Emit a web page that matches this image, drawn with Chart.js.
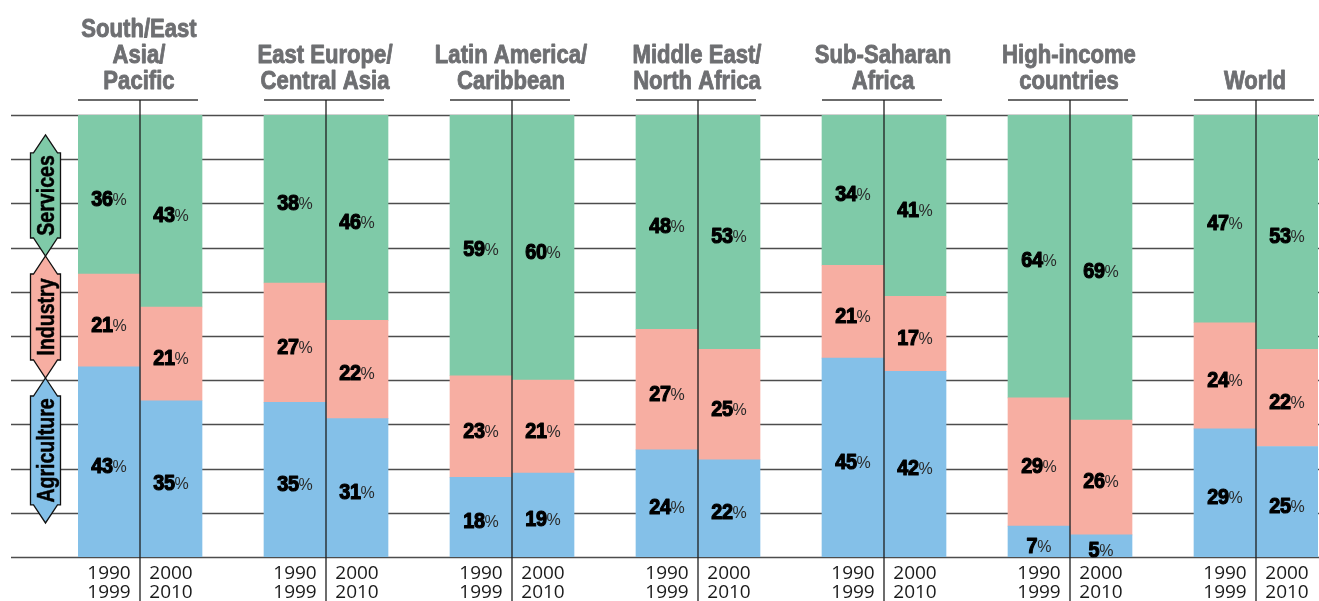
<!DOCTYPE html>
<html>
<head>
<meta charset="utf-8">
<script src="https://cdn.jsdelivr.net/npm/chart.js@4.4.1/dist/chart.umd.min.js"></script>
<style>
  html, body { margin: 0; padding: 0; background: #fff; }
  canvas { display: block; }
</style>
</head>
<body>
<canvas id="chart" width="1319" height="601"></canvas>
<script>
// Region headings (one entry per line of the heading)
const regionHeaders = [
  ['South/East', 'Asia/', 'Pacific'],
  ['East Europe/', 'Central Asia'],
  ['Latin America/', 'Caribbean'],
  ['Middle East/', 'North Africa'],
  ['Sub-Saharan', 'Africa'],
  ['High-income', 'countries'],
  ['World']
];
// Two periods per region
const periodLabels = [['1990', '1999'], ['2000', '2010']];

// Shares (%) per bar: region order, 1990-1999 then 2000-2010
const agriculture = [43, 35, 35, 31, 18, 19, 24, 22, 45, 42, 7, 5, 29, 25];
const industry    = [21, 21, 27, 22, 23, 21, 27, 25, 21, 17, 29, 26, 24, 22];
const services    = [36, 43, 38, 46, 59, 60, 48, 53, 34, 41, 64, 69, 47, 53];

const sectorNames  = ['Agriculture', 'Industry', 'Services'];
const sectorColors = ['#84c0e8', '#f7aea2', '#7fcaa8'];
// Side legend arrows, as [top tip, bottom tip] on the percentage axis
const sectorArrowSpans = [[40.5, 7.7], [68.1, 40.5], [95.5, 68.1]];

// Category slots: two bars per region, an empty slot between regions
const slotLabels = [];
const slotBar = [];      // bar index for each slot, or null for a spacer
regionHeaders.forEach((h, r) => {
  periodLabels.forEach((p, k) => { slotLabels.push(p.join(' ')); slotBar.push(r * 2 + k); });
  if (r < regionHeaders.length - 1) { slotLabels.push(''); slotBar.push(null); }
});

const sectorValues = [agriculture, industry, services];
const totals = agriculture.map((v, i) => v + industry[i] + services[i]);

const datasets = sectorValues.map((vals, s) => ({
  label: sectorNames[s],
  data: slotBar.map(b => b === null ? null : vals[b] / totals[b] * 100),
  rawValues: slotBar.map(b => b === null ? null : vals[b]),
  backgroundColor: sectorColors[s],
  borderWidth: 0,
  barPercentage: 1,
  categoryPercentage: 1
}));

const HEAD_FONT = 'bold 26px "Liberation Sans", Arial, sans-serif';
const NUM_FONT = 'bold 22px "Liberation Sans", Arial, sans-serif';
const PCT_FONT = '16px "Liberation Sans", Arial, sans-serif';
const YEAR_FONT = '500 19px "Open Sans", "Noto Sans", sans-serif';
const ARROW_FONT = 'bold 23px "Liberation Sans", Arial, sans-serif';
const NARROW = 0.85;   // horizontal squeeze for the condensed headings
const NUM_NARROW = 0.9;

// Draws text squeezed horizontally, anchored at (x, y), optionally thickened
function narrowText(ctx, text, x, y, squeeze, stroke) {
  ctx.save();
  ctx.translate(x, y);
  ctx.scale(squeeze, 1);
  ctx.fillText(text, 0, 0);
  if (stroke) {
    ctx.lineWidth = stroke;
    ctx.strokeStyle = ctx.fillStyle;
    ctx.lineJoin = 'round';
    ctx.strokeText(text, 0, 0);
  }
  ctx.restore();
}

const decorations = {
  id: 'decorations',
  beforeDatasetsDraw(chart) {
    const { ctx, scales: { y }, width } = chart;
    ctx.save();
    ctx.strokeStyle = '#4d4d4d';
    ctx.lineWidth = 1.3;
    y.ticks.forEach(t => {
      const py = Math.round(y.getPixelForValue(t.value)) + 0.5;
      ctx.beginPath();
      ctx.moveTo(11, py);
      ctx.lineTo(width, py);
      ctx.stroke();
    });
    ctx.restore();
  },
  afterDatasetsDraw(chart) {
    const { ctx, scales: { x, y }, chartArea, height } = chart;
    const slotW = x.getPixelForValue(1) - x.getPixelForValue(0);
    ctx.save();

    // Value labels inside each segment
    chart.data.datasets.forEach((ds, di) => {
      const meta = chart.getDatasetMeta(di);
      meta.data.forEach((el, i) => {
        const v = ds.rawValues[i];
        if (v === null) return;
        const cy = (el.y + el.base) / 2;
        const num = String(v);
        ctx.font = NUM_FONT;
        ctx.letterSpacing = '-0.5px';
        const w1 = ctx.measureText(num).width * NUM_NARROW;
        ctx.font = PCT_FONT;
        ctx.letterSpacing = '0px';
        const w2 = ctx.measureText('%').width;
        const x0 = el.x - (w1 + w2) / 2;
        const base = cy + 11;
        ctx.textAlign = 'left';
        ctx.textBaseline = 'alphabetic';

        ctx.save();
        ctx.translate(x0, base);
        ctx.scale(NUM_NARROW, 1);
        ctx.font = NUM_FONT;
        ctx.letterSpacing = '-0.5px';
        ctx.fillStyle = '#000';
        ctx.strokeStyle = '#000';
        ctx.lineWidth = 1.2;
        ctx.lineJoin = 'round';
        ctx.fillText(num, 0, 0);
        ctx.strokeText(num, 0, 0);
        ctx.restore();

        ctx.font = PCT_FONT;
        ctx.letterSpacing = '0px';
        ctx.fillStyle = '#2a2a2a';
        ctx.fillText('%', x0 + w1, base - 1);
      });
    });
    ctx.letterSpacing = '0px';

    // Region headings, underlines, period dividers and period labels
    regionHeaders.forEach((lines, r) => {
      const s0 = r * 3;
      const xa = x.getPixelForValue(s0);
      const xb = x.getPixelForValue(s0 + 1);
      const mid = (xa + xb) / 2;
      const lineY = chartArea.top - 15;

      ctx.strokeStyle = '#3a3a3a';
      ctx.lineWidth = 1.4;
      ctx.beginPath();
      ctx.moveTo(xa - slotW / 2, lineY);
      ctx.lineTo(xa - slotW / 2 + slotW * 2 - 4, lineY);
      ctx.stroke();

      ctx.strokeStyle = '#1e1e1e';
      ctx.lineWidth = 1.3;
      ctx.beginPath();
      ctx.moveTo(mid, lineY);
      ctx.lineTo(mid, height);
      ctx.stroke();

      ctx.font = HEAD_FONT;
      ctx.fillStyle = '#6e6f72';
      ctx.textAlign = 'center';
      ctx.textBaseline = 'alphabetic';
      const n = lines.length;
      lines.forEach((t, k) => {
        narrowText(ctx, t, mid - 1, chartArea.top - 26 - (n - 1 - k) * 26, NARROW, 0.9);
      });

      ctx.font = YEAR_FONT;
      ctx.fillStyle = '#1a1a1a';
      ctx.textBaseline = 'middle';
      [xa, xb].forEach((px, k) => {
        periodLabels[k].forEach((t, j) => {
          ctx.fillText(t, px, chartArea.bottom + 17 + j * 19);
        });
      });
    });

    // Sector arrows at the left
    const ax = 45.5, bodyHalf = 15, headHalf = 12, headH = 18;
    sectorArrowSpans.forEach((span, s) => {
      const top = y.getPixelForValue(span[0]);
      const bot = y.getPixelForValue(span[1]);
      ctx.beginPath();
      ctx.moveTo(ax, top);
      ctx.lineTo(ax + headHalf, top + headH);
      ctx.lineTo(ax + bodyHalf, top + headH);
      ctx.lineTo(ax + bodyHalf, bot - headH);
      ctx.lineTo(ax + headHalf, bot - headH);
      ctx.lineTo(ax, bot);
      ctx.lineTo(ax - headHalf, bot - headH);
      ctx.lineTo(ax - bodyHalf, bot - headH);
      ctx.lineTo(ax - bodyHalf, top + headH);
      ctx.lineTo(ax - headHalf, top + headH);
      ctx.closePath();
      ctx.fillStyle = sectorColors[s];
      ctx.fill();
      ctx.strokeStyle = '#111';
      ctx.lineWidth = 1.3;
      ctx.lineJoin = 'miter';
      ctx.stroke();

      ctx.save();
      ctx.translate(ax + 1, (top + bot) / 2);
      ctx.rotate(-Math.PI / 2);
      ctx.font = ARROW_FONT;
      ctx.fillStyle = '#000';
      ctx.textAlign = 'center';
      ctx.textBaseline = 'middle';
      narrowText(ctx, sectorNames[s], 0, 1, NARROW, 0.5);
      ctx.restore();
    });

    ctx.restore();
  }
};

new Chart(document.getElementById('chart'), {
  type: 'bar',
  data: { labels: slotLabels, datasets },
  options: {
    responsive: false,
    animation: false,
    layout: { padding: { left: 78, right: 1, top: 115, bottom: 44 } },
    plugins: { legend: { display: false }, tooltip: { enabled: false } },
    scales: {
      x: { stacked: true, display: false },
      y: { stacked: true, display: false, min: 0, max: 100, ticks: { stepSize: 10 } }
    }
  },
  plugins: [decorations]
});
</script>
</body>
</html>
